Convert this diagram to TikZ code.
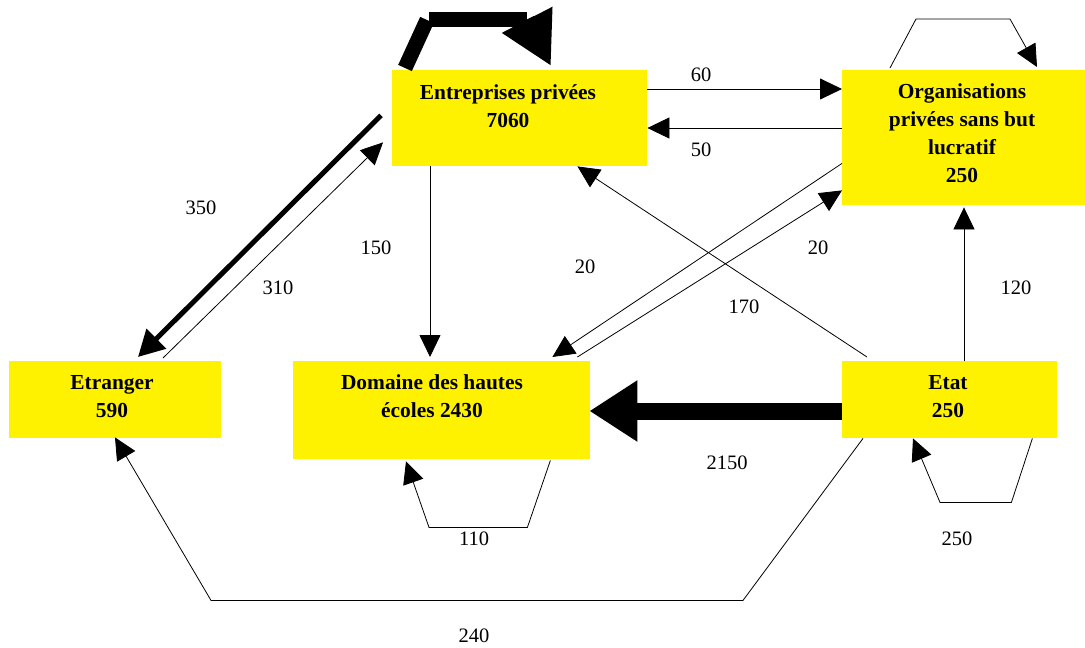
\documentclass[tikz,border=0pt]{standalone}
\usepackage{fontspec}
\setmainfont{Liberation Serif}
\usetikzlibrary{arrows.meta,calc}
\begin{document}
\begin{tikzpicture}[x=1pt,y=-1pt,
  box/.style={fill=yellow,draw=none,inner sep=0pt,anchor=north west},
  boxtext/.style={align=center,inner sep=0pt,font=\bfseries\fontsize{21.4}{28}\selectfont},
  lab/.style={inner sep=0pt,font=\fontsize{20.5}{24}\selectfont},
  thinline/.style={draw=black,line width=0.8pt},
  thinarr/.style={thinline,-{Triangle[length=22pt,width=21pt]}},
  midarr/.style={draw=black,line width=5pt,-{Triangle[length=26pt,width=27pt]}},
  fatline/.style={draw=black,line width=15pt},
  fatarr/.style={draw=black,line width=15pt,-{Triangle[length=52pt,width=53pt]}},
  hugearr/.style={draw=black,line width=17pt,-{Triangle[length=48pt,width=58pt]}}
]
\useasboundingbox[fill=white] (0,0) rectangle (1085,648);

% boxes
\node[box,minimum width=255pt,minimum height=96pt] (ent) at (392,70) {};
\node[box,minimum width=243pt,minimum height=135pt] (org) at (842,70) {};
\node[box,minimum width=212pt,minimum height=77pt] (etr) at (9,361) {};
\node[box,minimum width=297pt,minimum height=98pt] (dom) at (293,361) {};
\node[box,minimum width=215pt,minimum height=77pt] (etat) at (842,361) {};

% box texts
\node[boxtext] (entT) at (508,106) {Entreprises privées\\7060};
\node[boxtext] (orgT) at (962,133.5) {Organisations\\privées sans but\\lucratif\\250};
\node[boxtext] (etrT) at (112,396.5) {Etranger\\590};
\node[boxtext] (domT) at (432,396.5) {Domaine des hautes\\écoles 2430};
\node[boxtext] (etatT) at (948,396.5) {Etat\\250};

% Entreprises self loop
\draw[fatline] ($(ent.north west)+(13,-2)$) -- ($(ent.north west)+(35,-50)$);
\draw[fatline] ($(ent.north west)+(37,-50.5)$) -- ($(ent.north west)+(135,-50.5)$);
\draw[fatarr] ($(ent.north west)+(135,-50.5)$) -- ($(ent.north west)+(159,-4)$);

% Entreprises <-> Organisations
\draw[thinarr] ($(ent.north east)+(0,19)$) -- ($(org.north west)+(0,19)$);
\draw[thinarr] ($(org.north west)+(0,58)$) -- ($(ent.north east)+(0,58)$);

% Entreprises <-> Etranger
\draw[midarr] ($(ent.south west)+(-11,-51)$) -- ($(etr.north west)+(129,-4)$);
\draw[thinarr] ($(etr.north west)+(154,-3)$) -- ($(ent.south west)+(-9,-24)$);

% Entreprises -> Domaine
\draw[thinarr] ($(ent.south west)+(38,0)$) -- ($(dom.north west)+(137,-4)$);

% Organisations <-> Domaine
\draw[thinarr] ($(org.south west)+(0,-42)$) -- ($(dom.north east)+(-38,-4)$);
\draw[thinarr] ($(dom.north east)+(-13,-4)$) -- ($(org.south west)+(0,-15)$);

% Etat -> Entreprises
\draw[thinarr] ($(etat.north west)+(25,-4)$) -- ($(ent.south east)+(-70,0)$);

% Etat -> Organisations
\draw[thinarr] ($(etat.north west)+(122,0)$) -- ($(org.south west)+(122,2)$);

% Etat -> Domaine
\draw[hugearr] ($(etat.north west)+(0,50)$) -- ($(dom.north east)+(-1,50)$);

% Organisations self loop
\draw[thinarr] ($(org.north west)+(48,-2)$) -- ($(org.north west)+(74,-51)$)
  -- ($(org.north west)+(168,-51)$) -- ($(org.north west)+(195,-3)$);

% Domaine self loop
\draw[thinarr] ($(dom.south east)+(-40,1)$) -- ($(dom.south east)+(-63,68)$)
  -- ($(dom.south west)+(136,68)$) -- ($(dom.south west)+(113,2)$);

% Etat self loop
\draw[thinarr] ($(etat.south east)+(-25,0)$) -- ($(etat.south east)+(-46,64)$)
  -- ($(etat.south west)+(98,64)$) -- ($(etat.south west)+(71,0)$);

% Etat -> Etranger
\draw[thinarr] ($(etat.south west)+(21,0)$) -- ($(etat.south west)+(-99,162)$)
  -- ($(etr.south west)+(202,162)$) -- ($(etr.south west)+(106,-1)$);

% labels
\node[lab] (l60) at (701,75) {60};
\node[lab] (l50) at (701,150) {50};
\node[lab] (l350) at (201,208) {350};
\node[lab] (l310) at (278,288) {310};
\node[lab] (l150) at (376,248) {150};
\node[lab] (l20a) at (585,267) {20};
\node[lab] (l20b) at (818,248) {20};
\node[lab] (l170) at (744,307) {170};
\node[lab] (l120) at (1016,288) {120};
\node[lab] (l2150) at (727,463) {2150};
\node[lab] (l110) at (474,539) {110};
\node[lab] (l250) at (957,539) {250};
\node[lab] (l240) at (474,636) {240};
\end{tikzpicture}
\end{document}
